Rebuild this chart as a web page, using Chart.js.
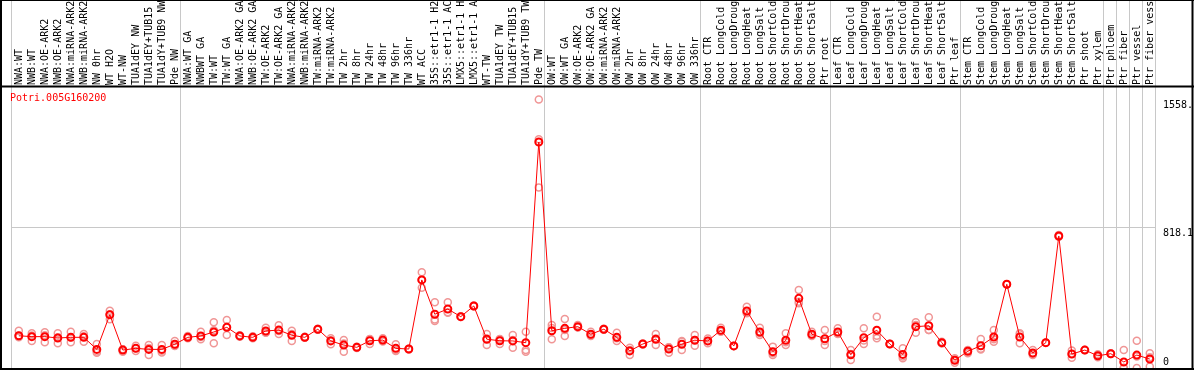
<!DOCTYPE html>
<html>
<head>
<meta charset="utf-8">
<script src="https://cdn.jsdelivr.net/npm/chart.js@4/dist/chart.umd.min.js"></script>
<style>
  html, body { margin: 0; padding: 0; background: #fff; }
  #wrap { width: 1194px; height: 370px; }
</style>
</head>
<body>
<div id="wrap"><canvas id="expr-chart" width="1194" height="370"></canvas></div>
<script>
// Gene name
const geneName = 'Potri.005G160200';

// Sample labels (truncated to 14 chars as in the original)
const categories = [
    'NWA:WT', 'NWB:WT', 'NWA:OE-ARK2', 'NWB:OE-ARK2', 'NWA:miRNA-ARK2', 'NWB:miRNA-ARK2',
    'NW 0hr', 'WT H2O', 'WT-NW', 'TUA1dEY NW', 'TUA1dEY+TUB15', 'TUA1dY+TUB9 NW', 'Pde NW',
    'NWA:WT GA', 'NWBWT GA', 'TW:WT', 'TW:WT GA', 'NWA:OE-ARK2 GA', 'NWB:OE-ARK2 GA',
    'TW:OE-ARK2', 'TW:OE-ARK2 GA', 'NWA:miRNA-ARK2', 'NWB:miRNA-ARK2', 'TW:miRNA-ARK2',
    'TW:miRNA-ARK2', 'TW 2hr', 'TW 8hr', 'TW 24hr', 'TW 48hr', 'TW 96hr', 'TW 336hr',
    'WT ACC', '35S::etr1-1 H2', '35S::etr1-1 AC', 'LMX5::etr1-1 H', 'LMX5::etr1-1 A',
    'WT-TW', 'TUA1dEY TW', 'TUA1dEY+TUB15', 'TUA1dY+TUB9 TW', 'Pde TW',
    'OW:WT', 'OW:WT GA', 'OW:OE-ARK2', 'OW:OE-ARK2 GA', 'OW:miRNA-ARK2', 'OW:miRNA-ARK2',
    'OW 2hr', 'OW 8hr', 'OW 24hr', 'OW 48hr', 'OW 96hr', 'OW 336hr',
    'Root CTR', 'Root LongCold', 'Root LongDroug', 'Root LongHeat', 'Root LongSalt',
    'Root ShortCold', 'Root ShortDrou', 'Root ShortHeat', 'Root ShortSalt', 'Ptr root',
    'Leaf CTR', 'Leaf LongCold', 'Leaf LongDroug', 'Leaf LongHeat', 'Leaf LongSalt',
    'Leaf ShortCold', 'Leaf ShortDrou', 'Leaf ShortHeat', 'Leaf ShortSalt', 'Ptr leaf',
    'Stem CTR', 'Stem LongCold', 'Stem LongDroug', 'Stem LongHeat', 'Stem LongSalt',
    'Stem ShortCold', 'Stem ShortDrou', 'Stem ShortHeat', 'Stem ShortSalt',
    'Ptr shoot', 'Ptr xylem', 'Ptr phloem', 'Ptr fiber', 'Ptr vessel', 'Ptr fiber vess'
];

// Mean expression per sample
const meanValues = [
    187, 182, 182, 174, 178, 178, 108, 309, 104, 114, 108, 108, 138,
    178, 186, 209, 236, 186, 178, 215, 220, 190, 178, 225, 157, 133, 120, 158, 162, 114, 110,
    511, 312, 342, 298, 360, 167, 158, 157, 147, 1311,
    216, 230, 240, 196, 225, 178, 99, 139, 167, 110, 138, 161,
    157, 219, 128, 331, 209, 95, 161, 404, 196, 170,
    209, 77, 176, 219, 139, 79, 240, 245, 147, 45,
    97, 129, 180, 486, 180, 87, 147, 766, 81, 104, 71, 83, 35, 75, 52
];

// Replicates
const repA = [
    216, 201, 207, 201, 211, 197, 139, 332, 108, 129, 133, 133, 157,
    176, 211, 265, 278, 186, 178, 234, 248, 216, 182, 225, 172, 162, 124, 139, 172, 138, 110,
    555, 381, 381, 296, 358, 197, 167, 191, 211, 1558.3,
    249, 284, 249, 211, 225, 205, 118, 139, 197, 89, 157, 191,
    143, 234, 128, 356, 234, 124, 201, 453, 211, 220,
    230, 104, 230, 298, 139, 114, 265, 294, 147, 56,
    85, 168, 220, 486, 201, 104, 147, 764, 81, 104, 71, 81, 104, 158, 85
];
const repB = [
    178, 157, 149, 143, 150, 153, 89, 283, 95, 99, 75, 100, 128,
    172, 167, 143, 191, 190, 172, 205, 197, 157, 175, 222, 138, 95, 116, 168, 160, 99, 108,
    466, 273, 321, 300, 362, 133, 139, 118, 104, 1048,
    167, 186, 236, 186, 222, 157, 75, 136, 133, 120, 104, 129,
    171, 210, 128, 317, 191, 75, 133, 375, 186, 133,
    197, 46, 139, 172, 139, 56, 205, 220, 142, 31,
    104, 108, 153, 486, 143, 75, 147, 772, 60, 104, 62, 86, 0, 0, 8
];
const repC = [
    187, 188, 190, 178, 178, 184, 96, 312, 109, 114, 116, 90, 130,
    186, 180, 219, 239, 182, 184, 206, 215, 197, 177, 228, 161, 142, 120, 167, 154, 105, 112,
    512, 282, 324, 298, 360, 171, 168, 162, 95, 1327,
    232, 220, 235, 191, 228, 172, 104, 142, 171, 121, 153, 163,
    157, 213, 128, 320, 202, 86, 149, 384, 191, 157,
    200, 81, 159, 187, 139, 67, 250, 221, 152, 48,
    102, 111, 167, 486, 196, 82, 147, 762, 102, 104, 80, 82, 1, 67, 63
];

// Right axis ticks and their printed labels
const yTickValues = [0, 818.1, 1558.3];
const yTickLabels = ['0', '818.1', '1558.'];
const yMax = 1636.2;

// Last sample index of each group (a grey separator follows it)
const groupEnds = [12, 40, 52, 62, 72, 83, 84, 85, 86, 87];

const monoFont = { family: '"DejaVu Sans Mono", "Liberation Mono", monospace', size: 10 };
const xShift = 0.6;

// Frame, header line and gene name
const framePlugin = {
    id: 'frame',
    afterDraw(chart) {
        const ctx = chart.ctx;
        const area = chart.chartArea;
        ctx.save();
        ctx.strokeStyle = '#000';
        ctx.lineWidth = 2;
        ctx.beginPath();
        ctx.moveTo(0, area.top + 0.5);
        ctx.lineTo(chart.width, area.top + 0.5);
        ctx.moveTo(0, area.bottom + 1);
        ctx.lineTo(chart.width, area.bottom + 1);
        ctx.moveTo(1, 0);
        ctx.lineTo(1, area.bottom + 1);
        ctx.moveTo(chart.width - 1.5, 0);
        ctx.lineTo(chart.width - 1.5, area.bottom + 1);
        ctx.stroke();
        ctx.lineWidth = 1;
        ctx.beginPath();
        ctx.moveTo(0, 0.5);
        ctx.lineTo(chart.width, 0.5);
        ctx.stroke();
        ctx.fillStyle = '#ff0000';
        ctx.font = '10px "DejaVu Sans Mono", monospace';
        ctx.textBaseline = 'top';
        ctx.fillText(geneName, 10, area.top + 7);
        ctx.restore();
    }
};

const replicatePoints = [];
[repA, repB, repC].forEach(rep => {
    rep.forEach((v, i) => replicatePoints.push({ x: i, y: v }));
});

new Chart(document.getElementById('expr-chart').getContext('2d'), {
    type: 'line',
    data: {
        datasets: [{
            data: meanValues.map((v, i) => ({ x: i, y: v })),
            borderColor: '#ff0000',
            borderWidth: 1,
            pointRadius: 3.5,
            pointBorderWidth: 2,
            pointBorderColor: '#ff0000',
            pointBackgroundColor: 'rgba(0,0,0,0)',
            tension: 0
        }, {
            data: replicatePoints,
            showLine: false,
            pointRadius: 3.5,
            pointBorderWidth: 1.5,
            pointBorderColor: '#f09696',
            pointBackgroundColor: 'rgba(0,0,0,0)'
        }]
    },
    options: {
        responsive: false,
        animation: false,
        devicePixelRatio: 1,
        layout: { autoPadding: false, padding: { left: 11, top: 0, right: 0, bottom: 2 } },
        plugins: { legend: { display: false }, tooltip: { enabled: false } },
        scales: {
            x: {
                type: 'linear',
                position: 'top',
                weight: 1,
                min: -xShift,
                max: categories.length - xShift,
                afterBuildTicks: scale => { scale.ticks = categories.map((c, i) => ({ value: i })); },
                afterFit: scale => {
                    scale.height = 86;
                    scale.paddingLeft = 0;
                    scale.paddingRight = 0;
                },
                grid: { display: false, drawTicks: false },
                border: { display: false },
                ticks: {
                    autoSkip: false,
                    minRotation: 90,
                    maxRotation: 90,
                    padding: 1,
                    labelOffset: 13,
                    color: '#000',
                    font: monoFont,
                    callback: value => categories[value]
                }
            },
            xGroups: {
                type: 'linear',
                position: 'top',
                weight: 0,
                min: -xShift,
                max: categories.length - xShift,
                afterBuildTicks: scale => {
                    scale.ticks = [{ value: -xShift }].concat(groupEnds.map(i => ({ value: i + 1 - xShift })));
                },
                afterFit: scale => {
                    scale.height = 0;
                    scale.paddingLeft = 0;
                    scale.paddingRight = 0;
                },
                grid: { color: '#c8c8c8', lineWidth: 1, drawTicks: true, tickLength: 86 },
                border: { display: false },
                ticks: { display: false }
            },
            y: {
                position: 'right',
                min: 0,
                max: yMax,
                afterBuildTicks: scale => { scale.ticks = yTickValues.map(v => ({ value: v })); },
                afterFit: scale => {
                    scale.width = 39;
                    scale.paddingTop = 0;
                    scale.paddingBottom = 0;
                },
                grid: {
                    drawTicks: false,
                    color: ctx => (ctx.tick && ctx.tick.value === 818.1) ? '#c8c8c8' : 'rgba(0,0,0,0)'
                },
                border: { display: false },
                ticks: {
                    padding: 8,
                    color: '#000',
                    font: monoFont,
                    callback: (value, index) => {
                        const label = yTickLabels[index];
                        return index === 0 ? [label, ''] : ['', label];
                    }
                }
            }
        }
    },
    plugins: [framePlugin]
});
</script>
</body>
</html>
